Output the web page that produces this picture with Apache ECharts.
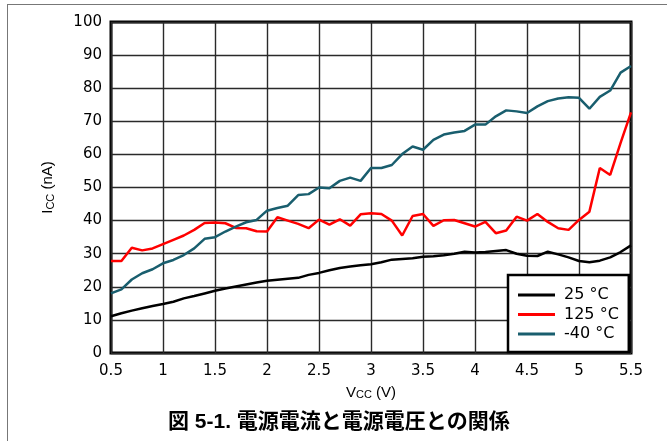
<!DOCTYPE html>
<html>
<head>
<meta charset="utf-8">
<script src="https://cdn.jsdelivr.net/npm/echarts@6/dist/echarts.min.js"></script>
<style>html,body{margin:0;padding:0;background:#fff}#c{width:667px;height:441px}</style>
</head>
<body>
<div id="c"></div>
<script>
var vcc = [0.5,0.6,0.7,0.8,0.9,1.0,1.1,1.2,1.3,1.4,1.5,1.6,1.7,1.8,1.9,2.0,2.1,2.2,2.3,2.4,2.5,2.6,2.7,2.8,2.9,3.0,3.1,3.2,3.3,3.4,3.5,3.6,3.7,3.8,3.9,4.0,4.1,4.2,4.3,4.4,4.5,4.6,4.7,4.8,4.9,5.0,5.1,5.2,5.3,5.4,5.5];
var icc25 = [11.1,12.0,12.8,13.5,14.2,14.8,15.5,16.5,17.2,18.0,18.8,19.5,20.1,20.7,21.3,21.8,22.1,22.4,22.7,23.6,24.2,25.0,25.7,26.1,26.5,26.8,27.4,28.2,28.4,28.6,29.1,29.2,29.5,30.0,30.6,30.4,30.5,30.8,31.1,30.0,29.4,29.3,30.6,29.8,28.9,27.8,27.4,27.9,28.9,30.5,32.5];
var icc125 = [27.8,27.8,31.8,31.0,31.6,32.9,34.2,35.5,37.2,39.3,39.4,39.2,37.8,37.7,36.8,36.7,41.0,40.0,39.0,37.7,40.3,38.8,40.4,38.5,41.9,42.2,42.0,40.0,35.5,41.4,42.0,38.4,40.1,40.2,39.2,38.2,39.6,36.2,37.0,41.2,40.0,42.0,39.6,37.7,37.2,40.2,42.7,55.9,53.8,63.5,72.7];
var iccM40 = [18.0,19.2,22.2,24.1,25.3,27.1,28.1,29.6,31.6,34.5,35.0,36.7,38.2,39.5,40.2,43.0,43.8,44.5,47.7,48.0,50.0,49.8,52.0,53.0,52.0,55.9,55.9,56.8,60.1,62.4,61.4,64.4,66.0,66.6,67.1,69.0,69.0,71.5,73.3,73.0,72.5,74.5,76.1,76.9,77.3,77.1,73.8,77.4,79.3,84.7,86.7];
var seriesNames = ['25 °C','125 °C','-40 °C'];
var seriesColors = ['#000000','#ff0000','#195e6e'];
var titleText = '図 5-1. 電源電流と電源電圧との関係';

function pairs(ys){ return vcc.map(function(x,i){ return [x, ys[i]]; }); }
var FONT = '"Liberation Sans", Arial, sans-serif';
var WIDE = '"DejaVu Sans", sans-serif';
var chart = echarts.init(document.getElementById('c'));
var data = [icc25, icc125, iccM40];
chart.setOption({
  animation: false,
  backgroundColor: '#fff',
  grid: {left: 111, right: 36, top: 22, bottom: 88, show: true, borderColor: '#000', borderWidth: 3, backgroundColor: 'transparent'},
  xAxis: {
    type: 'value', min: 0.5, max: 5.5, interval: 0.5,
    axisLine: {show: false}, axisTick: {show: false},
    splitLine: {show: true, lineStyle: {color: '#2a2a2a', width: 1.4}},
    axisLabel: {color: '#000', fontSize: 15, fontFamily: WIDE, margin: 11},
    name: '{a|V}{b|CC}{a| (V)}', nameLocation: 'middle', nameGap: 30,
    nameTextStyle: {rich: {
      a: {fontSize: 15, lineHeight: 18, fontFamily: FONT, color: '#000'},
      b: {fontSize: 11, lineHeight: 18, padding: [6,0,0,0], fontFamily: FONT, color: '#000'}
    }}
  },
  yAxis: {
    type: 'value', min: 0, max: 100, interval: 10,
    axisLine: {show: false}, axisTick: {show: false},
    splitLine: {show: true, lineStyle: {color: '#2a2a2a', width: 1.4}},
    axisLabel: {color: '#000', fontSize: 15, fontFamily: WIDE, margin: 9},
    name: '{a|I}{b|CC}{a| (nA)}', nameLocation: 'middle', nameGap: 54,
    nameTextStyle: {rich: {
      a: {fontSize: 15, lineHeight: 18, fontFamily: FONT, color: '#000'},
      b: {fontSize: 11, lineHeight: 18, padding: [6,0,0,0], fontFamily: FONT, color: '#000'}
    }}
  },
  legend: {
    left: 508, top: 275, orient: 'vertical',
    data: seriesNames,
    icon: 'rect', itemWidth: 37, itemHeight: 3, itemGap: 0.5,
    padding: [10.5, 10, 8.5, 10],
    backgroundColor: '#fff', borderColor: '#000', borderWidth: 2.5,
    textStyle: {fontSize: 16, lineHeight: 19, fontFamily: WIDE, color: '#000', padding: [0,0,0,4]}
  },
  graphic: [
    {type: 'line', shape: {x1: 7, y1: 4.5, x2: 667, y2: 4.5}, style: {stroke: '#777', lineWidth: 1}},
    {type: 'line', shape: {x1: 7.5, y1: 4.5, x2: 7.5, y2: 441}, style: {stroke: '#777', lineWidth: 1}},
    {type: 'text', left: 168, top: 412, style: {text: titleText, font: 'bold 21px "Liberation Sans", "Noto Sans CJK JP", sans-serif', fill: '#000'}}
  ],
  series: data.map(function(d, i){
    return {type: 'line', name: seriesNames[i], data: pairs(d), showSymbol: false, symbol: 'none',
      lineStyle: {color: seriesColors[i], width: 2.5}, itemStyle: {color: seriesColors[i]}, z: 3};
  })
});
</script>
</body>
</html>
